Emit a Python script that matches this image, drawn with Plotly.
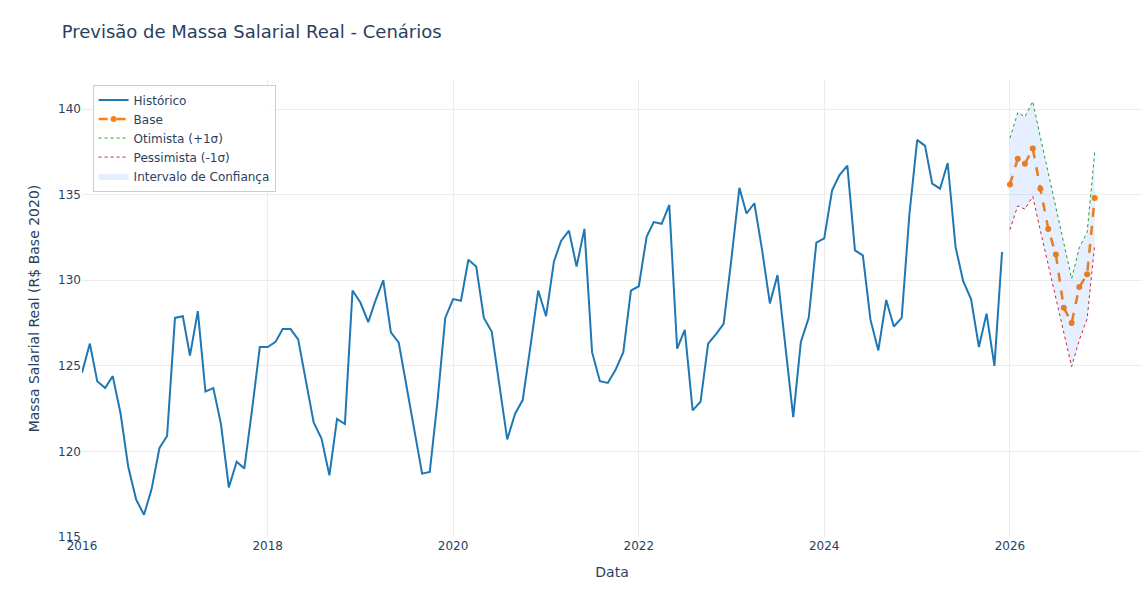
import pandas as pd
import plotly.graph_objects as go

# ---- data ----
hist_dates = pd.date_range("2016-01-01", periods=120, freq="MS")
hist_values = [
    124.6, 126.3, 124.1, 123.7, 124.4, 122.2, 119.1, 117.2, 116.3, 117.8, 120.2, 120.9,
    127.8, 127.9, 125.6, 128.2, 123.5, 123.7, 121.6, 117.9, 119.4, 119.0, 122.5, 126.1,
    126.1, 126.4, 127.15, 127.15, 126.55, 124.2, 121.7, 120.75, 118.6, 121.9, 121.6, 129.4,
    128.7, 127.55, 128.8, 130.0, 126.95, 126.35, 123.8, 121.3, 118.7, 118.8, 123.0, 127.8,
    128.9, 128.8, 131.2, 130.8, 127.8, 127.0, 124.0, 120.7, 122.2, 123.0, 126.2, 129.4,
    127.9, 131.1, 132.3, 132.9, 130.8, 133.0, 125.8, 124.1, 124.0, 124.75, 125.8, 129.4,
    129.65, 132.55, 133.4, 133.3, 134.4, 126.0, 127.1, 122.4, 122.9, 126.3, 126.85, 127.45,
    131.3, 135.4, 133.9, 134.5, 131.8, 128.65, 130.3, 126.25, 122.0, 126.4, 127.8, 132.2,
    132.45, 135.25, 136.15, 136.7, 131.75, 131.45, 127.7, 125.9, 128.85, 127.3, 127.8, 133.8,
    138.2, 137.85, 135.65, 135.35, 136.85, 131.95, 129.95, 128.9, 126.1, 128.05, 125.0, 131.65,
]

fc_dates = pd.date_range("2026-01-01", periods=12, freq="MS")
base_values = [135.6, 137.1, 136.8, 137.7, 135.35, 133.0, 131.5, 128.4, 127.5, 129.6, 130.35, 134.8]
upper_values = [138.3, 139.8, 139.55, 140.45, 138.35, 136.3, 134.25, 132.15, 130.1, 131.9, 132.8, 137.5]
lower_values = [132.95, 134.35, 134.15, 134.9, 132.9, 130.9, 128.9, 126.95, 124.95, 126.5, 127.75, 132.1]

FONT = "Verdana, DejaVu Sans, sans-serif"
GRID = "#ececec"

fig = go.Figure()
fig.add_trace(go.Scatter(x=hist_dates, y=hist_values, mode="lines", name="Histórico",
                         line=dict(color="#1f77b4", width=2)))
fig.add_trace(go.Scatter(x=fc_dates, y=base_values, mode="lines+markers", name="Base",
                         line=dict(color="#ff7f0e", width=2.5, dash="dash"),
                         marker=dict(size=6, color="#ff7f0e")))
fig.add_trace(go.Scatter(x=fc_dates, y=upper_values, mode="lines", name="Otimista (+1σ)",
                         line=dict(color="#2ca02c", width=1, dash="dot")))
fig.add_trace(go.Scatter(x=fc_dates, y=lower_values, mode="lines", name="Pessimista (-1σ)",
                         line=dict(color="#d62728", width=1, dash="dot")))
fig.add_trace(go.Scatter(x=list(fc_dates) + list(fc_dates[::-1]),
                         y=upper_values + lower_values[::-1],
                         fill="toself", fillcolor="rgba(0,100,255,0.1)",
                         line=dict(color="rgba(255,255,255,0)", width=0),
                         mode="lines", name="Intervalo de Confiança", hoverinfo="skip"))

fig.update_layout(
    template="plotly_white",
    width=1142, height=590,
    margin=dict(l=82, r=0, t=80, b=53),
    font=dict(family=FONT, size=12, color="#2a3f5f"),
    title=dict(text="Previsão de Massa Salarial Real - Cenários", x=0.054, y=0.946,
               xanchor="left", yanchor="middle",
               font=dict(family=FONT, size=18)),
    xaxis=dict(title=dict(text="Data"), range=["2016-01-01", "2027-06-05"],
               dtick="M24", tickformat="%Y", gridcolor=GRID),
    yaxis=dict(title=dict(text="Massa Salarial Real (R$ Base 2020)"), range=[115, 141.7],
               dtick=5, gridcolor=GRID),
    legend=dict(x=0.01, y=0.99, xanchor="left", yanchor="top",
                bgcolor="rgba(255,255,255,0.9)", bordercolor="#cccccc", borderwidth=1),
)

fig.write_html("out.html")
